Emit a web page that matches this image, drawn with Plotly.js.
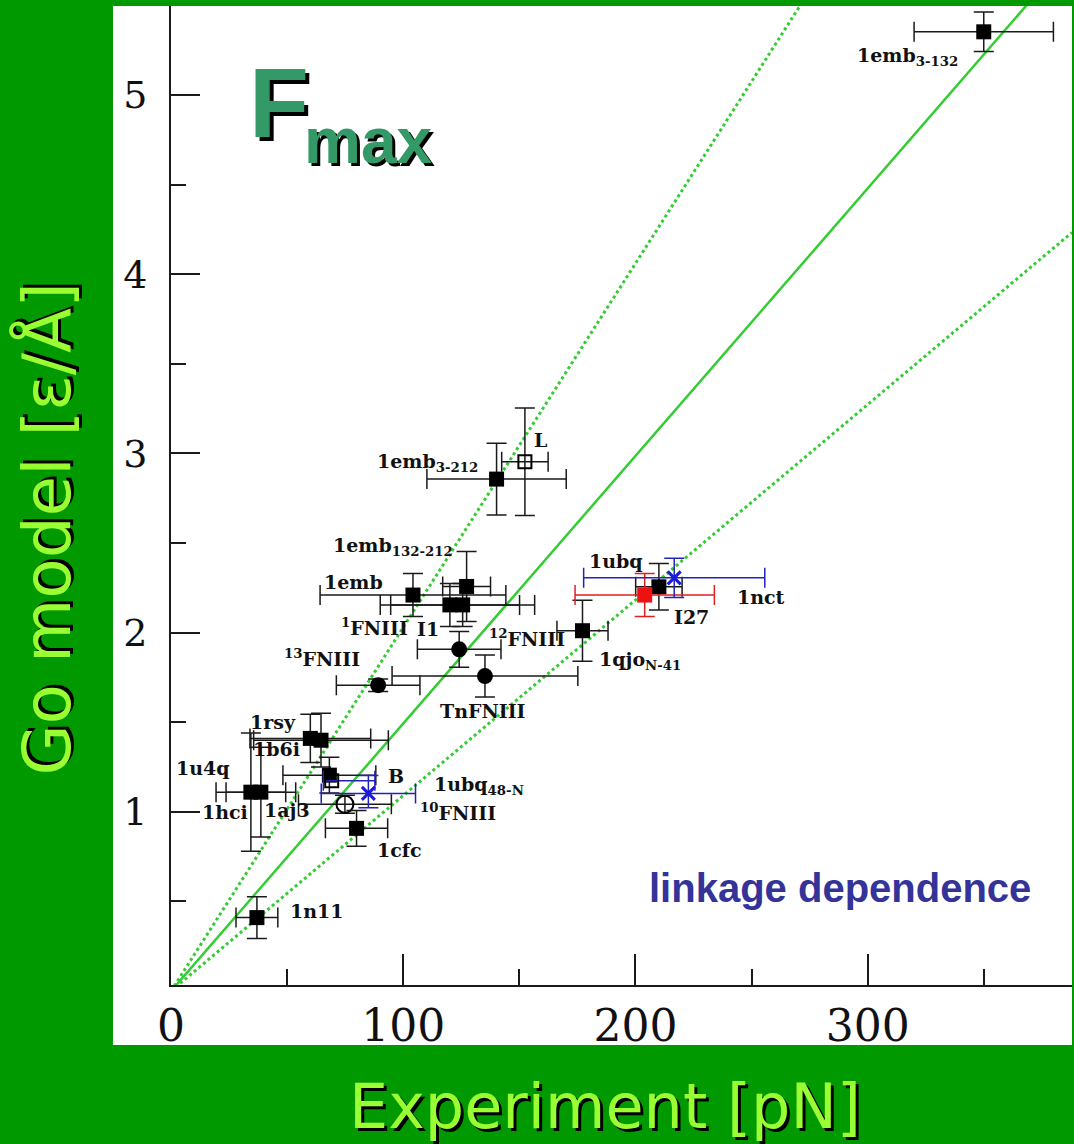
<!DOCTYPE html>
<html>
<head>
<meta charset="utf-8">
<script src="https://cdn.plot.ly/plotly-3.0.1.min.js"></script>
<style>
  html, body { margin: 0; padding: 0; background: #009900; }
  #chart { width: 1074px; height: 1144px; }
</style>
</head>
<body>
<div id="chart"></div>
<script>
// Maximum force: experiment [pN] vs. Go model [eps/A]

// Filled squares
const sqNames   = ['1emb<sub>3-132</sub>', '1emb<sub>3-212</sub>', '1emb', '1emb<sub>132-212</sub>', '<sup>1</sup>FNIII', 'I1',
                   '1qjo<sub>N-41</sub>', 'I27', '1rsy', '1b6i', '1u4q', '1hci', '1aj3', '1cfc', '1n11'];
const sqForce   = [350, 140.2, 104.2, 127.3, 120.1, 125.6, 177.2, 210.1, 60, 64.6, 34.4, 38.7, 68.2, 79.9, 37];
const sqForceEr = [30, 30, 40, 10.3, 30, 31, 11, 10, 26, 29, 15, 15, 20, 13.4, 9];
const sqGo      = [5.353, 2.857, 2.21, 2.258, 2.155, 2.155, 2.011, 2.256, 1.41, 1.40, 1.11, 1.11, 1.205, 0.908, 0.41];
const sqGoEr    = [0.11, 0.20, 0.12, 0.195, 0.12, 0.12, 0.17, 0.13, 0.135, 0.15, 0.33, 0.25, 0.10, 0.10, 0.116];

// Open square L
const lNames   = ['L'];
const lForce   = [152.4];
const lForceEr = [10];
const lGo      = [2.954];
const lGoEr    = [0.30];

// Open square B (blue, one-sided force range)
const bNames        = ['B'];
const bForce        = [69.2];
const bForceErPlus  = [18.6];
const bForceErMinus = [3.6];
const bGo           = [1.174];

// Filled circles
const ciNames   = ['<sup>12</sup>FNIII', '<sup>13</sup>FNIII', 'TnFNIII'];
const ciForce   = [124.1, 89.2, 135.2];
const ciForceEr = [18, 18, 40];
const ciGo      = [1.907, 1.707, 1.758];
const ciGoEr    = [0.10, 0.035, 0.117];

// Open circle
const ocNames   = ['<sup>10</sup>FNIII'];
const ocForce   = [74.9];
const ocForceEr = [20];
const ocGo      = [1.043];
const ocGoEr    = [0.05];

// Red square
const rdNames   = ['1nct'];
const rdForce   = [204];
const rdForceEr = [30];
const rdGo      = [2.21];
const rdGoEr    = [0.12];

// Blue crosses (linkage dependence)
const blNames     = ['1ubq', '1ubq<sub>48-N</sub>'];
const blForce     = [216.7, 85];
const blForceEr   = [39, 20.3];
const blGo        = [2.306, 1.103];
const blGoErPlus  = [0.11, 0.10];
const blGoErMinus = [0.11, 0.08];

// Proportionality lines: best fit and the two bounds
const fitSlopes = [0.01493, 0.0203, 0.01091];

// Axis ticks and titles
const xTicks = [0, 100, 200, 300];
const yTicks = [1, 2, 3, 4, 5];
const xRange = [0, 388];
const yRange = [0.034, 5.497];
const xTitle = 'Experiment [pN]';
const yTitle = 'Go model [ε/Å]';

// Label placement next to each point: [xanchor, xshift px, yshift px]
const labelPlacement = {
  '1emb<sub>3-132</sub>': ['right', -24, -25],
  '1emb<sub>3-212</sub>': ['right', -17, 17],
  '1emb': ['right', -28, 13],
  '1emb<sub>132-212</sub>': ['right', -12, 40],
  '<sup>1</sup>FNIII': ['right', -40, -22],
  'I1': ['right', -22, -24],
  '1qjo<sub>N-41</sub>': ['left', 15, -30],
  'I27': ['left', 13, -30],
  '1rsy': ['right', -12, 16],
  '1b6i': ['right', -19, -9],
  '1u4q': ['right', -19, 24],
  '1hci': ['right', -11, -20],
  '1aj3': ['right', -17, -35],
  '1cfc': ['left', 18, -22],
  '1n11': ['left', 31, 7],
  'L': ['left', 7, 22],
  'B': ['left', 54, 5],
  '<sup>12</sup>FNIII': ['left', 28, 11],
  '<sup>13</sup>FNIII': ['right', -16, 27],
  'TnFNIII': ['center', -2, -35],
  '<sup>10</sup>FNIII': ['left', 73, -8],
  '1nct': ['left', 90, -2],
  '1ubq': ['right', -29, 17],
  '1ubq<sub>48-N</sub>': ['left', 64, 8]
};

const ink = '#1a1a1a';
const lineGreen = '#33cc33';
const titleGreen = '#99ff33';

function errBar(arr, color) {
  return { type: 'data', array: arr, visible: true, color: color || ink, thickness: 1.5, width: 10 };
}

const lineStyles = [
  { color: lineGreen, width: 2.5, dash: 'solid' },
  { color: lineGreen, width: 3, dash: 'dot' },
  { color: lineGreen, width: 3, dash: 'dot' }
];

const traces = [];

fitSlopes.forEach((k, i) => {
  traces.push({
    type: 'scatter', mode: 'lines', hoverinfo: 'skip',
    x: [0, xRange[1]], y: [0, k * xRange[1]],
    line: lineStyles[i]
  });
});

traces.push({
  type: 'scatter', mode: 'markers', name: 'filled squares',
  x: sqForce, y: sqGo, text: sqNames,
  error_x: errBar(sqForceEr), error_y: errBar(sqGoEr),
  marker: { symbol: 'square', size: 15, color: '#000' }
});

traces.push({
  type: 'scatter', mode: 'markers', name: 'L',
  x: lForce, y: lGo, text: lNames,
  error_x: errBar(lForceEr), error_y: errBar(lGoEr),
  marker: { symbol: 'square-open', size: 13, color: '#000', line: { width: 2 } }
});

traces.push({
  type: 'scatter', mode: 'markers', name: 'B',
  x: bForce, y: bGo, text: bNames,
  error_x: { type: 'data', symmetric: false, array: bForceErPlus, arrayminus: bForceErMinus,
             color: '#2222bb', thickness: 1.5, width: 10 },
  marker: { symbol: 'square-open', size: 13, color: '#000', line: { width: 2 } }
});

traces.push({
  type: 'scatter', mode: 'markers', name: 'filled circles',
  x: ciForce, y: ciGo, text: ciNames,
  error_x: errBar(ciForceEr), error_y: errBar(ciGoEr),
  marker: { symbol: 'circle', size: 16, color: '#000' }
});

traces.push({
  type: 'scatter', mode: 'markers', name: 'open circle',
  x: ocForce, y: ocGo, text: ocNames,
  error_x: errBar(ocForceEr), error_y: errBar(ocGoEr),
  marker: { symbol: 'circle-open', size: 17, color: '#000', line: { width: 2 } }
});

traces.push({
  type: 'scatter', mode: 'markers', name: 'red square',
  x: rdForce, y: rdGo, text: rdNames,
  error_x: errBar(rdForceEr, '#e02020'), error_y: errBar(rdGoEr, '#e02020'),
  marker: { symbol: 'square', size: 15, color: '#ee1111' }
});

traces.push({
  type: 'scatter', mode: 'markers', name: 'blue crosses',
  x: blForce, y: blGo, text: blNames,
  error_x: errBar(blForceEr, '#2222bb'),
  error_y: { type: 'data', symmetric: false, array: blGoErPlus, arrayminus: blGoErMinus,
             color: '#2222bb', thickness: 1.5, width: 10 },
  marker: { symbol: 'x-thin', size: 13, color: '#1a1add', line: { width: 3, color: '#1a1add' } }
});

// Point labels, built from each point's own coordinates
const annotations = [];
function addLabels(names, xs, ys) {
  names.forEach((n, i) => {
    const p = labelPlacement[n];
    annotations.push({
      xref: 'x', yref: 'y', x: xs[i], y: ys[i], text: n, showarrow: false,
      xanchor: p[0], yanchor: 'middle', xshift: p[1], yshift: p[2],
      font: { family: 'DejaVu Serif', size: 19, weight: 'bold', color: '#111' }
    });
  });
}
addLabels(sqNames, sqForce, sqGo);
addLabels(lNames, lForce, lGo);
addLabels(bNames, bForce, bGo);
addLabels(ciNames, ciForce, ciGo);
addLabels(ocNames, ocForce, ocGo);
addLabels(rdNames, rdForce, rdGo);
addLabels(blNames, blForce, blGo);

// Panel heading F_max
const headFont = 'Liberation Sans, Arial, sans-serif';
annotations.push({
  xref: 'paper', yref: 'paper', x: 0.0844, y: 0.9006, xanchor: 'left', yanchor: 'middle',
  text: 'F', showarrow: false,
  font: { family: headFont, size: 98, weight: 'bold', color: '#339966', shadow: '4px 4px 0px #000' }
});
annotations.push({
  xref: 'paper', yref: 'paper', x: 0.1454, y: 0.8621, xanchor: 'left', yanchor: 'middle',
  text: 'max', showarrow: false,
  font: { family: headFont, size: 64, weight: 'bold', color: '#339966', shadow: '3px 3px 0px #000' }
});
annotations.push({
  xref: 'paper', yref: 'paper', x: 0.7425, y: 0.099, xanchor: 'center', yanchor: 'middle',
  text: 'linkage dependence', showarrow: false,
  font: { family: 'Liberation Sans', size: 40, weight: 'bold', color: '#333399' }
});

// Axis titles
annotations.push({
  xref: 'paper', yref: 'paper', x: 0.4817, y: -0.1246, xanchor: 'center', yanchor: 'middle',
  text: xTitle, showarrow: false,
  font: { family: 'DejaVu Sans', size: 62, color: titleGreen, shadow: '3px 3px 0px #000' }
});
annotations.push({
  xref: 'paper', yref: 'paper', x: -0.137, y: 0.4658, xanchor: 'center', yanchor: 'middle',
  text: yTitle, showarrow: false, textangle: -90,
  font: { family: 'DejaVu Sans', size: 66, color: titleGreen, shadow: '3px 3px 0px #000' }
});

const axisCommon = {
  ticks: 'inside', tickwidth: 2, tickcolor: ink,
  showline: true, linecolor: ink, linewidth: 2,
  showgrid: false, zeroline: false, mirror: false,
  automargin: false, fixedrange: true, tickmode: 'array'
};

const layout = {
  width: 1074, height: 1144,
  paper_bgcolor: '#009900', plot_bgcolor: '#ffffff',
  margin: { l: 171, r: 2, t: 6, b: 159, pad: 0 },
  showlegend: false,
  xaxis: Object.assign({}, axisCommon, {
    range: xRange, tickvals: xTicks, ticktext: xTicks.map(String), ticklen: 31,
    tickfont: { family: 'DejaVu Serif', size: 44, color: '#111' },
    ticklabelstandoff: 1,
    minor: { tickmode: 'linear', tick0: 0, dtick: 50, ticks: 'inside', ticklen: 16, tickwidth: 2, tickcolor: ink, showgrid: false }
  }),
  yaxis: Object.assign({}, axisCommon, {
    range: yRange, tickvals: yTicks, ticktext: yTicks.map(String), ticklen: 29,
    tickfont: { family: 'DejaVu Serif', size: 38, color: '#111' },
    ticklabelstandoff: 14,
    minor: { tickmode: 'linear', tick0: 0, dtick: 0.5, ticks: 'inside', ticklen: 15, tickwidth: 2, tickcolor: ink, showgrid: false }
  }),
  shapes: [{
    type: 'rect', xref: 'paper', yref: 'paper', layer: 'below',
    x0: -0.0644, x1: 1, y0: -0.0613, y1: 1,
    fillcolor: '#ffffff', line: { width: 0 }
  }],
  annotations: annotations
};

Plotly.newPlot('chart', traces, layout, { displayModeBar: false, staticPlot: true });
</script>
</body>
</html>
